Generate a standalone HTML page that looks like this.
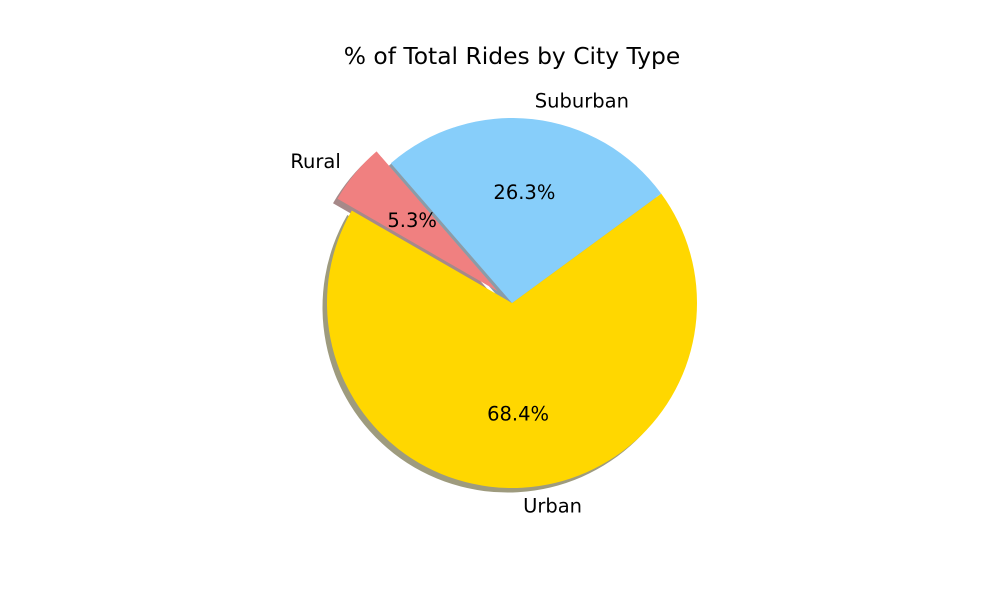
<!DOCTYPE html>
<html>
<head>
<meta charset="utf-8">
<style>
  html,body{margin:0;padding:0;background:#fff;}
  svg{display:block;}
  text{font-family:"DejaVu Sans","Liberation Sans",sans-serif;fill:#000;}
</style>
</head>
<body>
<svg id="chart" width="1000" height="600" viewBox="0 0 1000 600" xmlns="http://www.w3.org/2000/svg">
  <rect width="1000" height="600" fill="#ffffff"/>
  <text x="512" y="64" text-anchor="middle" font-size="23.4">% of Total Rides by City Type</text>
  <g id="shadows"></g>
  <g id="wedges"></g>
  <g id="labels"></g>
</svg>
<script>
const categories = ["Urban", "Suburban", "Rural"];
const percents = [68.4, 26.3, 5.3];
const colors = ["#ffd700", "#87cefa", "#f08080"];
const shadowColors = ["#5e5828", "#3c5a6e", "#6a3a3a"];
const explode = [0, 0, 0.1];
const startAngle = 150;

const NS = "http://www.w3.org/2000/svg";
const cx = 512, cy = 303, R = 185;
const shadowG = document.getElementById("shadows");
const wedgeG = document.getElementById("wedges");
const labelG = document.getElementById("labels");

function pt(x0, y0, r, deg) {
  const a = deg * Math.PI / 180;
  return [x0 + r * Math.cos(a), y0 - r * Math.sin(a)];
}
function wedgePath(x0, y0, a1, a2) {
  const p1 = pt(x0, y0, R, a1), p2 = pt(x0, y0, R, a2);
  const large = (a2 - a1) > 180 ? 1 : 0;
  return `M${x0},${y0} L${p1[0]},${p1[1]} A${R},${R} 0 ${large} 0 ${p2[0]},${p2[1]} Z`;
}

const total = percents.reduce((a, b) => a + b, 0);
let ang = startAngle;
percents.forEach((v, i) => {
  const span = v / total * 360;
  const a1 = ang, a2 = ang + span, mid = (a1 + a2) / 2;
  const c = pt(cx, cy, explode[i] * R, mid);
  const key = categories[i].toLowerCase();

  const sh = document.createElementNS(NS, "path");
  sh.setAttribute("d", wedgePath(c[0] - 4.5, c[1] + 4.5, a1, a2));
  sh.setAttribute("fill", shadowColors[i]);
  sh.setAttribute("fill-opacity", "0.6");
  
  
  shadowG.appendChild(sh);

  const w = document.createElementNS(NS, "path");
  w.setAttribute("d", wedgePath(c[0], c[1], a1, a2));
  w.setAttribute("fill", colors[i]);
  
  
  wedgeG.appendChild(w);

  const lp = pt(c[0], c[1], 1.1 * R, mid);
  const lt = document.createElementNS(NS, "text");
  lt.setAttribute("x", lp[0]);
  lt.setAttribute("y", lp[1] + 6.5);
  lt.setAttribute("font-size", "19.5");
  lt.setAttribute("text-anchor", Math.cos(mid * Math.PI / 180) > 0 ? "start" : "end");
  lt.textContent = categories[i];
  
  
  labelG.appendChild(lt);

  const pp = pt(c[0], c[1], 0.6 * R, mid);
  const pctT = document.createElementNS(NS, "text");
  pctT.setAttribute("x", pp[0]);
  pctT.setAttribute("y", pp[1] + 6.5);
  pctT.setAttribute("font-size", "19.5");
  pctT.setAttribute("text-anchor", "middle");
  pctT.textContent = v.toFixed(1) + "%";
  
  
  labelG.appendChild(pctT);

  ang = a2;
});
</script>
</body>
</html>
